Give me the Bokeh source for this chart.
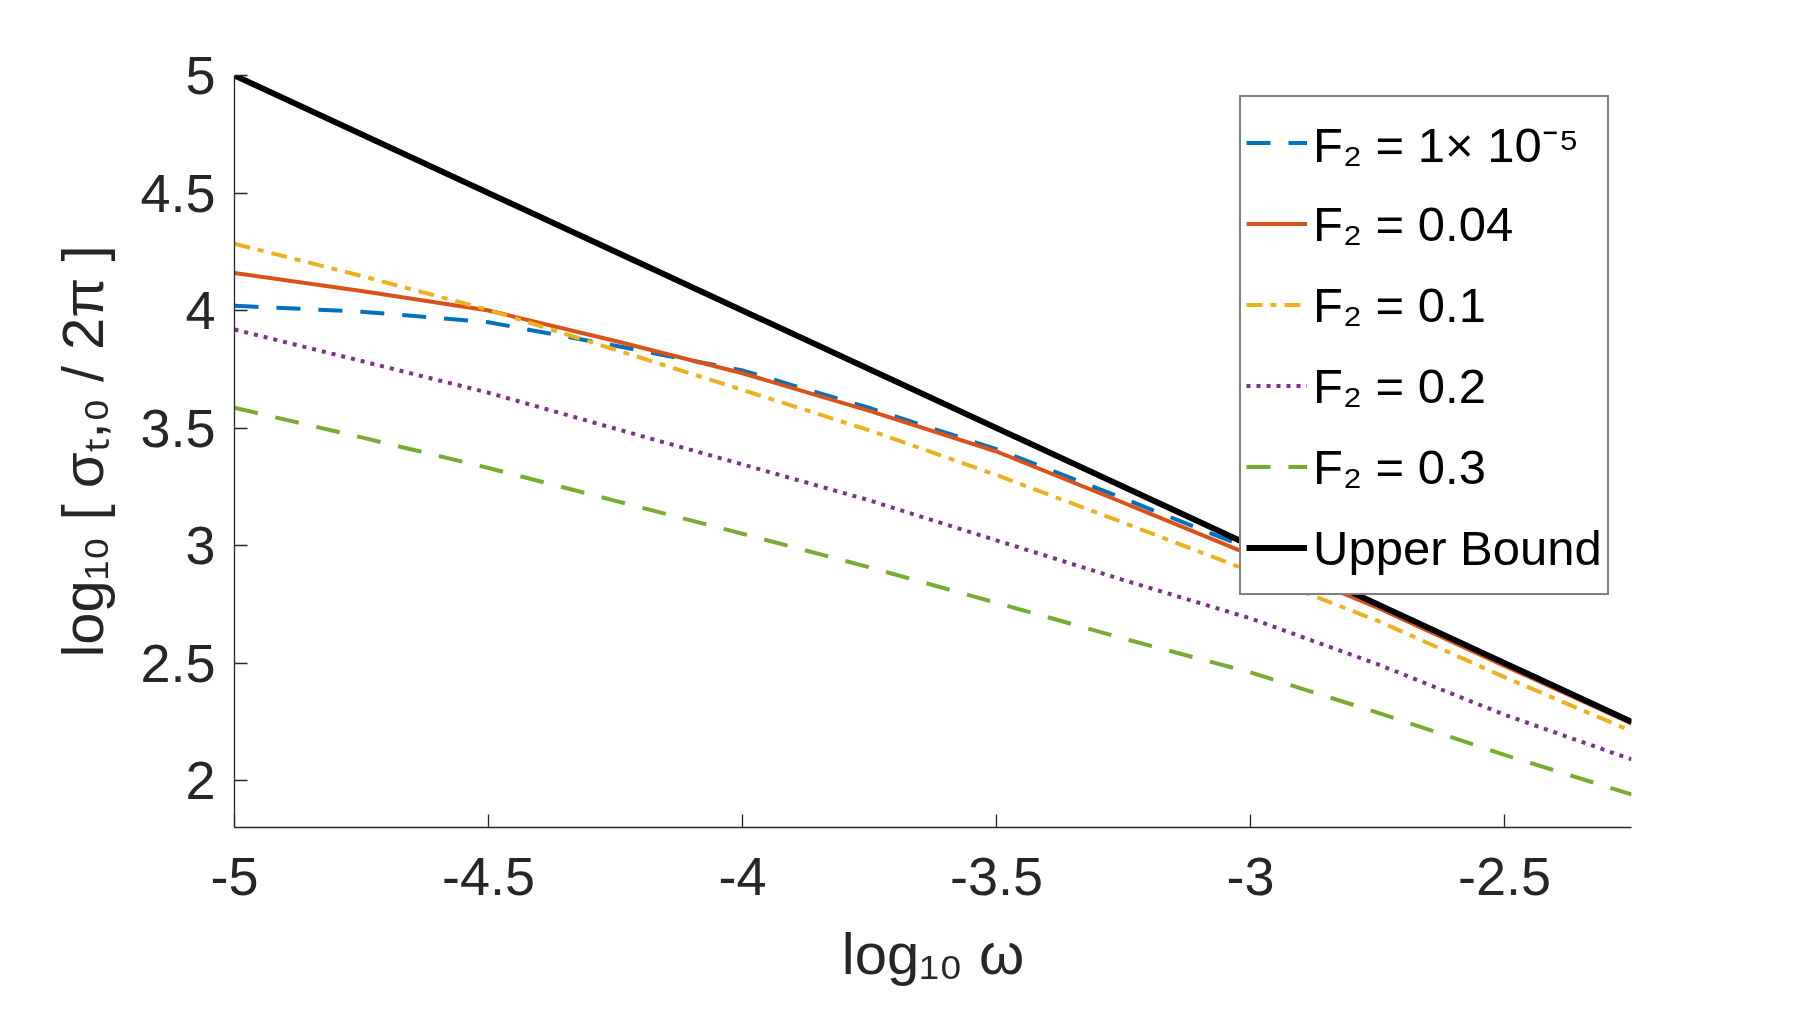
from bokeh.plotting import figure
from bokeh.models import Range1d, FixedTicker, Legend, LegendItem, NumeralTickFormatter
from bokeh.embed import file_html
from bokeh.resources import INLINE

# ---- data ----
x_vals = [-5.0, -4.75, -4.5, -4.25, -4.0, -3.75, -3.5, -3.25, -3.0, -2.75, -2.5, -2.25]
f2_1e5 = [4.02, 3.995, 3.95, 3.85, 3.745, 3.585, 3.41, 3.20, 2.985, 2.745, 2.495, 2.248]
f2_004 = [4.16, 4.083, 4.0, 3.87, 3.733, 3.573, 3.40, 3.182, 2.96, 2.735, 2.488, 2.243]
f2_01 = [4.284, 4.147, 4.003, 3.833, 3.662, 3.49, 3.30, 3.097, 2.89, 2.68, 2.44, 2.21]
f2_02 = [3.919, 3.785, 3.65, 3.497, 3.345, 3.192, 3.022, 2.853, 2.69, 2.495, 2.28, 2.09]
f2_03 = [3.586, 3.46, 3.33, 3.19, 3.05, 2.907, 2.756, 2.604, 2.46, 2.289, 2.109, 1.941]
bound_x = [-5.0, -2.25]
bound_y = [5.0, 2.25]

series_labels = ["F\u2082 = 1\u00d7 10\u207b\u2075", "F\u2082 = 0.04", "F\u2082 = 0.1",
                 "F\u2082 = 0.2", "F\u2082 = 0.3", "Upper Bound"]

x_ticks = [-5.0, -4.5, -4.0, -3.5, -3.0, -2.5]
x_tick_labels = ["-5", "-4.5", "-4", "-3.5", "-3", "-2.5"]
y_ticks = [2.0, 2.5, 3.0, 3.5, 4.0, 4.5, 5.0]
y_tick_labels = ["2", "2.5", "3", "3.5", "4", "4.5", "5"]

x_label = "log\u2081\u2080 \u03c9"
y_label = "log\u2081\u2080 [ \u03c3\u209c,\u2080 / 2\u03c0 ]"

FONT = "Liberation Sans"
AX = "#262626"

p = figure(width=1784, height=997,
           x_range=Range1d(-5, -2.25), y_range=Range1d(1.8, 5),
           output_backend="svg", toolbar_location=None,
           min_border_left=234, min_border_right=153,
           min_border_top=75, min_border_bottom=170)
p.xgrid.visible = False
p.ygrid.visible = False
p.outline_line_color = None
p.background_fill_color = "white"
p.border_fill_color = "white"

r1 = p.line(x_vals, f2_1e5, line_color="#0072BD", line_width=4, line_dash="24 18")
r2 = p.line(x_vals, f2_004, line_color="#D95319", line_width=4)
r3 = p.line(x_vals, f2_01, line_color="#EDB120", line_width=4, line_dash="16 8 6 8")
r4 = p.line(x_vals, f2_02, line_color="#7E2F8E", line_width=4, line_dash="4 6")
r5 = p.line(x_vals, f2_03, line_color="#77AC30", line_width=4, line_dash="24 18")
r6 = p.line(bound_x, bound_y, line_color="black", line_width=6)

for ax, ticks, labels in ((p.xaxis[0], x_ticks, x_tick_labels), (p.yaxis[0], y_ticks, y_tick_labels)):
    ax.ticker = FixedTicker(ticks=ticks)
    ax.formatter = NumeralTickFormatter(format="0.[0]")
    ax.major_label_overrides = {t: l for t, l in zip(ticks, labels)}
    ax.major_label_text_font = FONT
    ax.major_label_text_font_size = "54px"
    ax.major_label_text_color = AX
    ax.axis_label_text_font = FONT
    ax.axis_label_text_font_size = "58px"
    ax.axis_label_text_font_style = "normal"
    ax.axis_label_text_color = AX
    ax.axis_line_color = AX
    ax.axis_line_width = 1.3
    ax.major_tick_line_color = AX
    ax.major_tick_line_width = 1.3
    ax.major_tick_in = 13
    ax.major_tick_out = 0
    ax.minor_tick_line_color = None

p.xaxis.axis_label = x_label
p.yaxis.axis_label = y_label
p.xaxis.major_label_standoff = 30
p.yaxis.major_label_standoff = 19
p.xaxis.axis_label_standoff = 23
p.yaxis.axis_label_standoff = 22

renderers = [r1, r2, r3, r4, r5, r6]
legend = Legend(items=[LegendItem(label=lbl, renderers=[r]) for lbl, r in zip(series_labels, renderers)],
                location=(1005, 232),
                label_text_font=FONT, label_text_font_size="49px", label_text_color="black",
                label_height=81, glyph_height=81, glyph_width=61, label_standoff=6,
                padding=5, spacing=0, margin=0,
                border_line_color="black", border_line_width=2,
                background_fill_color="white", background_fill_alpha=1.0)
p.add_layout(legend)

open("out.html", "w").write(file_html(p, INLINE))
